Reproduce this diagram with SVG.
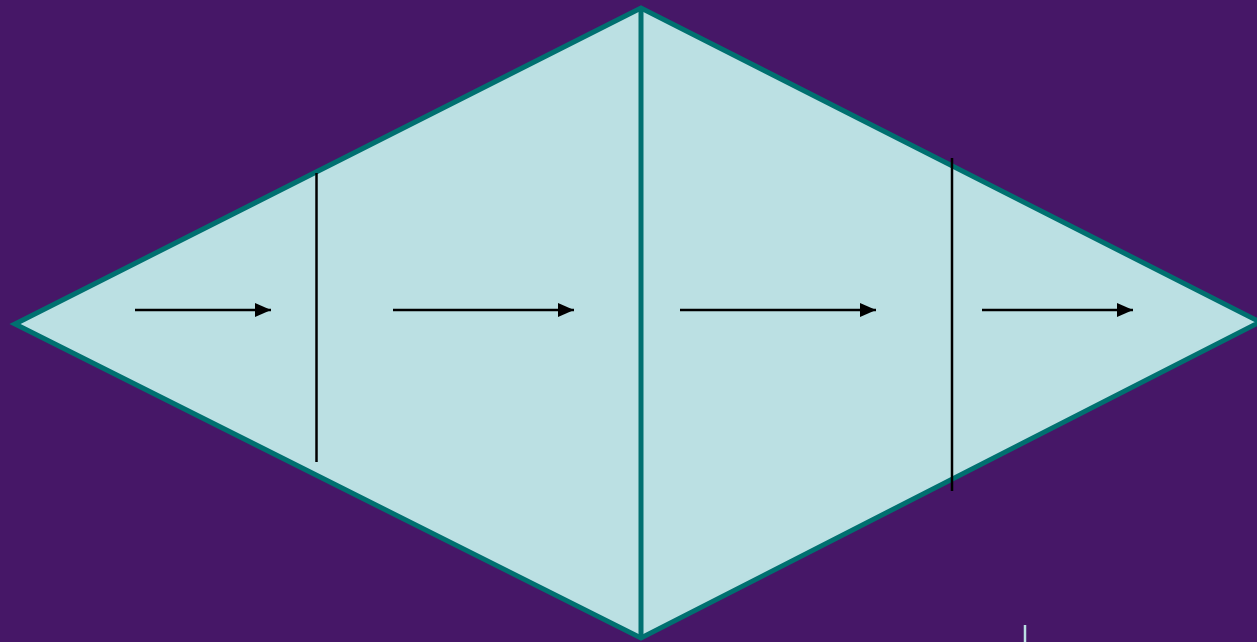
<svg xmlns="http://www.w3.org/2000/svg" width="1257" height="642" viewBox="0 0 1257 642">
<style>
.shape{fill:#BBE0E3;stroke:#007070;stroke-width:5;stroke-linejoin:miter}
.divider{stroke:#007070;stroke-width:5}
.bar{stroke:#000;stroke-width:2.5}
.arrow{stroke:#000;stroke-width:2.5;fill:none;marker-end:url(#ah)}
</style>
<defs>
<marker id="ah" markerWidth="16" markerHeight="14" refX="16" refY="7" orient="auto" markerUnits="userSpaceOnUse">
<path d="M0,0 L16,7 L0,14 Z" fill="#000"/>
</marker>
</defs>
<rect width="1257" height="642" fill="#461767"/>
<g id="diamond">
<polygon class="shape" points="15,324 641,8 1260,322 641,638"/>
<line class="divider" x1="641" y1="8" x2="641" y2="638"/>
</g>
<g id="barriers">
<line class="bar" x1="316.5" y1="173" x2="316.5" y2="462"/>
<line class="bar" x1="952" y1="158" x2="952" y2="491"/>
</g>
<g id="connectors">
<line class="arrow" x1="135" y1="310" x2="271" y2="310"/>
<line class="arrow" x1="393" y1="310" x2="574" y2="310"/>
<line class="arrow" x1="680" y1="310" x2="876" y2="310"/>
<line class="arrow" x1="982" y1="310" x2="1133" y2="310"/>
</g>
<line x1="1025" y1="625" x2="1025" y2="642" stroke="#BBE0E3" stroke-width="2.5"/>
</svg>
